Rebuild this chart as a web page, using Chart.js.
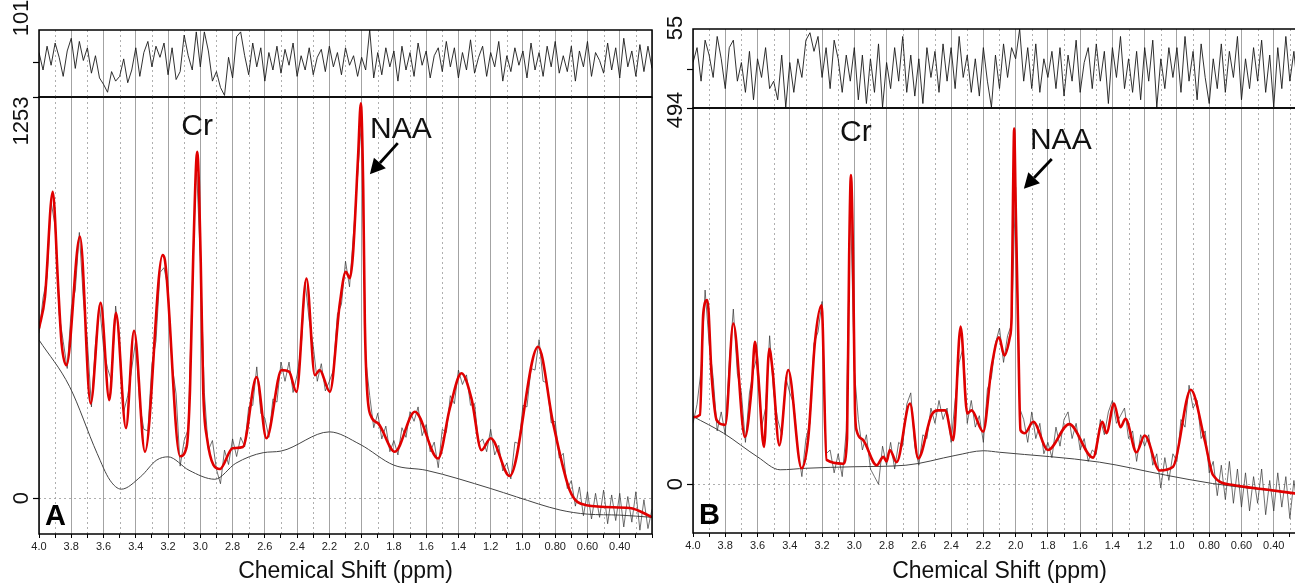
<!DOCTYPE html>
<html>
<head>
<meta charset="utf-8">
<title>MRS spectra A / B</title>
<script src="https://cdn.jsdelivr.net/npm/chart.js@4.4.0/dist/chart.umd.min.js"></script>
<style>
    html, body { margin: 0; padding: 0; background: #fff; overflow: hidden; }
    #stage { position: relative; width: 1295px; height: 583px; overflow: hidden; }
    #stage canvas { position: absolute; }
</style>
</head>
<body>
<div id="stage">
    <canvas id="mainA" width="660" height="583" style="left:0px;top:0px"></canvas>
    <canvas id="resA" width="660" height="100" style="left:0px;top:0px"></canvas>
    <canvas id="mainB" width="680" height="583" style="left:640px;top:0px"></canvas>
    <canvas id="resB" width="680" height="112" style="left:640px;top:0px"></canvas>
</div>
<script>
// sample positions (ppm) of the measured spectrum and residual
const ppmGrid = [
    4, 3.975, 3.95, 3.925, 3.9, 3.875, 3.85, 3.825, 3.8, 3.775,
    3.75, 3.725, 3.7, 3.675, 3.65, 3.625, 3.6, 3.575, 3.55, 3.525,
    3.5, 3.475, 3.45, 3.425, 3.4, 3.375, 3.35, 3.325, 3.3, 3.275,
    3.25, 3.225, 3.2, 3.175, 3.15, 3.125, 3.1, 3.075, 3.05, 3.025,
    3, 2.975, 2.95, 2.925, 2.9, 2.875, 2.85, 2.825, 2.8, 2.775,
    2.75, 2.725, 2.7, 2.675, 2.65, 2.625, 2.6, 2.575, 2.55, 2.525,
    2.5, 2.475, 2.45, 2.425, 2.4, 2.375, 2.35, 2.325, 2.3, 2.275,
    2.25, 2.225, 2.2, 2.175, 2.15, 2.125, 2.1, 2.075, 2.05, 2.025,
    2, 1.975, 1.95, 1.925, 1.9, 1.875, 1.85, 1.825, 1.8, 1.775,
    1.75, 1.725, 1.7, 1.675, 1.65, 1.625, 1.6, 1.575, 1.55, 1.525,
    1.5, 1.475, 1.45, 1.425, 1.4, 1.375, 1.35, 1.325, 1.3, 1.275,
    1.25, 1.225, 1.2, 1.175, 1.15, 1.125, 1.1, 1.075, 1.05, 1.025,
    1, 0.975, 0.95, 0.925, 0.9, 0.875, 0.85, 0.825, 0.8, 0.775,
    0.75, 0.725, 0.7, 0.675, 0.65, 0.625, 0.6, 0.575, 0.55, 0.525,
    0.5, 0.475, 0.45, 0.425, 0.4, 0.375, 0.35, 0.325, 0.3, 0.275,
    0.25, 0.225, 0.2
];

// ---- panel A ----
const dataA = [
    515, 625, 690, 925, 850, 575, 490, 405, 590, 650,
    830, 620, 490, 285, 480, 605, 470, 405, 365, 600,
    480, 270, 320, 405, 495, 290, 215, 210, 420, 490,
    705, 720, 655, 415, 325, 100, 180, 215, 660, 1050,
    750, 330, 150, 180, 90, 45, 150, 105, 185, 130,
    190, 160, 285, 290, 410, 265, 250, 190, 310, 300,
    425, 365, 425, 330, 385, 470, 675, 555, 475, 365,
    420, 335, 365, 400, 575, 605, 740, 660, 830, 1005,
    1185, 435, 320, 220, 265, 185, 225, 145, 180, 135,
    220, 190, 270, 240, 285, 195, 230, 145, 175, 95,
    215, 205, 320, 295, 400, 355, 385, 290, 295, 170,
    185, 145, 215, 135, 165, 85, 110, 60, 175, 170,
    290, 285, 405, 400, 495, 365, 360, 235, 240, 125,
    140, 30, 55, -25, 35, -55, 20, -65, 15, -60,
    25, -80, 10, -70, 15, -90, 5, -75, 20, -100,
    -5, -95, -35
];

const residualA = [
    30, -25, 50, -10, 60, 15, -45, 35, 75, -20,
    65, 5, 45, -35, 20, -50, -70, -95, -30, -60,
    -45, 10, -65, -25, 45, -45, 30, 65, -15, 50,
    15, 60, -40, 45, -55, -30, 85, 20, -25, 95,
    -15, 95, 35, -60, -30, -80, -105, 15, -50, 80,
    95, 20, -40, 60, -15, 45, -60, 30, -25, 50,
    -35, 40, -10, 60, -45, 20, -25, 45, -40, 15,
    40, -30, 50, -15, 30, -40, 45, -10, 20, -45,
    15, -25, 101, -50, 30, -40, 45, -15, 35, -60,
    50, -25, 30, -45, 60, -10, 35, -50, 20, 45,
    -30, 65, -15, 45, -50, 30, -25, 70, -35, 15,
    50, -45, 30, -15, 65, -60, 20, -30, 45, -10,
    35, -50, 60, -25, 30, -45, 50, -15, 65, -35,
    20, -30, 50, -60, 35, -15, 65, -45, 30, 5,
    -35, 60, -25, 45, -50, 75, -15, 35, -45, 55,
    -30, 50, -20
];

// fitted model, [ppm, signal]
const fitA = [
    [4.0, 530], [3.963, 629], [3.915, 957], [3.88, 650], [3.86, 484], [3.83, 415],
    [3.746, 817], [3.68, 296], [3.618, 610], [3.564, 306], [3.523, 579], [3.461, 219],
    [3.411, 523], [3.343, 145], [3.234, 759], [3.22, 745], [3.126, 131], [3.085, 160],
    [3.064, 337], [3.044, 754], [3.019, 1082], [2.998, 754], [2.982, 337], [2.96, 192],
    [2.878, 91], [2.80, 156], [2.736, 160], [2.651, 378], [2.59, 187], [2.496, 400],
    [2.45, 395], [2.404, 332], [2.342, 686], [2.29, 384], [2.26, 400], [2.197, 332],
    [2.135, 609], [2.098, 707], [2.073, 687], [2.054, 759], [2.022, 1067], [2.005, 1233],
    [1.99, 962], [1.98, 546], [1.966, 337], [1.94, 254], [1.898, 234], [1.794, 145],
    [1.67, 270], [1.526, 124], [1.453, 281], [1.381, 390], [1.319, 311], [1.257, 150],
    [1.2, 187], [1.082, 69], [0.906, 473], [0.813, 234], [0.71, 25], [0.607, -22],
    [0.338, -31], [0.2, -59]
];

const baselineA = [
    [4.0, 494], [3.81, 348], [3.64, 140], [3.56, 56], [3.49, 28], [3.37, 67],
    [3.27, 119], [3.2, 129], [3.07, 87], [2.91, 59], [2.78, 109], [2.61, 142],
    [2.5, 147], [2.2, 207], [2.01, 168], [1.8, 103], [1.6, 87], [1.2, 30],
    [1.04, 4], [0.77, -37], [0.6, -50], [0.4, -53], [0.2, -60]
];

// ---- panel B ----
const dataB = [
    80, 105, 150, 255, 185, 140, 70, 95, 65, 160,
    230, 145, 120, 55, 120, 150, 170, 75, 100, 195,
    120, 85, 65, 140, 120, 105, 45, 10, 60, 80,
    185, 200, 240, 40, 45, 15, 40, 10, 70, 380,
    150, 85, 45, 65, 20, 10, 0, 50, 25, 55,
    20, 55, 50, 105, 120, 50, 25, 65, 60, 100,
    80, 110, 85, 100, 55, 110, 160, 180, 80, 110,
    75, 90, 55, 125, 140, 185, 205, 160, 195, 210,
    390, 100, 85, 55, 95, 60, 80, 40, 55, 35,
    75, 50, 85, 95, 60, 80, 45, 60, 30, 45,
    40, 85, 65, 95, 110, 80, 90, 100, 60, 70,
    30, 65, 50, 65, 25, 40, -5, 35, 5, 40,
    30, 85, 75, 130, 100, 110, 60, 70, 15, 30,
    -15, 25, -20, 30, -25, 20, -30, 15, -35, 10,
    -25, 20, -40, 5, -35, 15, -30, 10, -45, 5,
    -35, 0, -30
];

const residualB = [
    10, 30, -15, 40, 20, -10, 45, 15, -25, 30,
    40, -15, 10, -30, 25, -40, 15, -10, 30, -25,
    -15, -40, 20, -50, 10, -30, 15, -10, 40, 50,
    25, 45, -10, 30, -25, 40, 15, -30, 20, -15,
    30, -40, 20, -45, 15, -30, 35, -50, 10, -25,
    30, -15, 45, -30, 20, -35, 15, -45, 30, -10,
    25, -30, 35, -15, 30, -25, 45, -10, 20, -30,
    15, -35, 30, -15, -50, 20, -25, 35, -10, 30,
    15, 55, -15, 30, -25, 35, -30, 15, -10, 25,
    -25, 30, -35, 20, -15, 40, -30, 10, 30, -25,
    35, -15, 25, -45, 30, -10, 45, -25, 15, -30,
    25, -40, 30, -15, 40, -50, 15, -25, 30, -10,
    30, -30, 45, -15, 25, -40, 35, -10, -45, 15,
    -25, 35, -30, 25, -10, 45, -40, 15, -25, 30,
    -15, 40, -30, 20, -50, 30, -25, 45, -15, 25,
    -30, 15, -10
];

const fitB = [
    [4.0, 88], [3.957, 91], [3.936, 225], [3.911, 242], [3.884, 141], [3.853, 84],
    [3.80, 78], [3.75, 211], [3.678, 62], [3.636, 128], [3.616, 187], [3.595, 141],
    [3.56, 49], [3.527, 178], [3.506, 148], [3.465, 51], [3.41, 150], [3.327, 21],
    [3.285, 62], [3.244, 187], [3.203, 235], [3.172, 32], [3.069, 27], [3.045, 60],
    [3.032, 300], [3.021, 406], [3.008, 300], [2.996, 100], [2.985, 70], [2.945, 58],
    [2.862, 25], [2.82, 36], [2.80, 30], [2.78, 45], [2.738, 29], [2.655, 106],
    [2.604, 34], [2.521, 91], [2.48, 97], [2.437, 97], [2.387, 58], [2.341, 207],
    [2.30, 93], [2.273, 97], [2.201, 69], [2.149, 154], [2.103, 193], [2.07, 169],
    [2.036, 193], [2.025, 220], [2.016, 380], [2.009, 467], [2.0, 370], [1.984, 198],
    [1.97, 71], [1.943, 67], [1.891, 82], [1.80, 45], [1.668, 79], [1.52, 35],
    [1.462, 82], [1.437, 67], [1.39, 106], [1.35, 75], [1.319, 86], [1.251, 42],
    [1.20, 64], [1.107, 18], [1.024, 23], [0.914, 124], [0.828, 58], [0.776, 12],
    [0.652, -1], [0.446, -7], [0.27, -12], [0.2, -14]
];

const baselineB = [
    [4.0, 89], [3.81, 67], [3.6, 36], [3.46, 19], [3.3, 21], [3.0, 23],
    [2.68, 25], [2.37, 38], [2.2, 44], [2.1, 42], [1.48, 29], [1.07, 12],
    [0.78, 1], [0.27, -12], [0.2, -14]
];

const FONT = '"Liberation Sans", Arial, Helvetica, sans-serif';
const RED = 'rgb(224,0,0)';
const X_MIN = 0.2;
const X_MAX = 4.0;

function gridPoints(values) {
    return ppmGrid.map((x, i) => ({ x, y: values[i] }));
}

function pairPoints(pairs) {
    return pairs.map(([x, y]) => ({ x, y }));
}

function isMajor(v) {
    return Math.round(v * 10) % 2 === 0;
}

function ppmLabel(v) {
    const r = Math.round(v * 10) / 10;
    if (!isMajor(r) || r < 0.3) return '';
    return r >= 1 ? r.toFixed(1) : r.toFixed(2);
}

/**
 * Frame, dotted minor grid, rotated axis numbers and the peak notes
 */
function makeDecor(cfg) {
    return {
        id: 'spectrumDecor',
        beforeDatasetsDraw(chart) {
            const { ctx, chartArea: a, scales: { x, y } } = chart;
            ctx.save();
            ctx.beginPath();
            ctx.rect(a.left, a.top, a.right - a.left, a.bottom - a.top);
            ctx.clip();
            ctx.strokeStyle = '#9a9a9a';
            ctx.lineWidth = 0.8;
            ctx.setLineDash([2, 3]);
            x.ticks.forEach(t => {
                if (isMajor(t.value)) return;
                const px = Math.round(x.getPixelForValue(t.value)) + 0.5;
                ctx.beginPath();
                ctx.moveTo(px, a.top);
                ctx.lineTo(px, a.bottom);
                ctx.stroke();
            });
            if (cfg.zeroLine) {
                const py = Math.round(y.getPixelForValue(0)) + 0.5;
                ctx.beginPath();
                ctx.moveTo(a.left, py);
                ctx.lineTo(a.right, py);
                ctx.stroke();
            }
            ctx.restore();
        },
        afterDraw(chart) {
            const { ctx, chartArea: a, scales: { x, y } } = chart;
            ctx.save();
            ctx.strokeStyle = '#000';
            ctx.lineWidth = 1.5;
            ctx.strokeRect(a.left, a.top, a.right - a.left, a.bottom - a.top);

            ctx.fillStyle = '#111';
            ctx.font = `22px ${FONT}`;
            ctx.textAlign = 'center';
            ctx.textBaseline = 'middle';
            (cfg.yLabels || []).forEach(l => {
                ctx.save();
                ctx.translate(a.left - 17, y.getPixelForValue(l.value) + l.shift);
                ctx.rotate(-Math.PI / 2);
                ctx.fillText(l.text, 0, 0);
                ctx.restore();
            });

            ctx.font = `30px ${FONT}`;
            (cfg.notes || []).forEach(n => {
                ctx.fillText(n.text, x.getPixelForValue(n.x), y.getPixelForValue(n.y));
            });

            (cfg.arrows || []).forEach(ar => {
                const x0 = x.getPixelForValue(ar.from[0]);
                const y0 = y.getPixelForValue(ar.from[1]);
                const x1 = x.getPixelForValue(ar.to[0]);
                const y1 = y.getPixelForValue(ar.to[1]);
                const ang = Math.atan2(y1 - y0, x1 - x0);
                const head = 15;
                const bx = x1 - head * Math.cos(ang);
                const by = y1 - head * Math.sin(ang);
                ctx.strokeStyle = '#000';
                ctx.lineWidth = 2.8;
                ctx.beginPath();
                ctx.moveTo(x0, y0);
                ctx.lineTo(bx, by);
                ctx.stroke();
                ctx.fillStyle = '#000';
                ctx.beginPath();
                ctx.moveTo(x1, y1);
                ctx.lineTo(bx + 8 * Math.sin(ang), by - 8 * Math.cos(ang));
                ctx.lineTo(bx - 8 * Math.sin(ang), by + 8 * Math.cos(ang));
                ctx.closePath();
                ctx.fill();
            });

            if (cfg.letter) {
                ctx.fillStyle = '#000';
                ctx.font = `bold 29px ${FONT}`;
                ctx.textAlign = 'left';
                ctx.textBaseline = 'alphabetic';
                ctx.fillText(cfg.letter, a.left + 6, a.bottom - 9);
            }

            if (cfg.title) {
                ctx.fillStyle = '#111';
                ctx.font = `23px ${FONT}`;
                ctx.textAlign = 'center';
                ctx.textBaseline = 'alphabetic';
                ctx.fillText(cfg.title, (a.left + a.right) / 2, 578);
            }
            ctx.restore();
        }
    };
}

function xScale(height, showLabels) {
    return {
        type: 'linear',
        reverse: true,
        min: X_MIN,
        max: X_MAX,
        afterFit: s => { s.height = height; },
        ticks: {
            display: showLabels,
            stepSize: 0.1,
            autoSkip: false,
            minRotation: 0,
            maxRotation: 0,
            padding: 2,
            color: '#222',
            font: { family: FONT, size: 11 },
            callback: v => ppmLabel(v)
        },
        grid: {
            color: c => (c.tick && isMajor(c.tick.value)) ? '#8c8c8c' : 'rgba(0,0,0,0)',
            lineWidth: 0.8,
            drawTicks: showLabels,
            tickLength: 4,
            tickColor: '#000',
            tickWidth: 1
        },
        border: { display: false }
    };
}

function yScale(min, max, width, tickValues) {
    return {
        type: 'linear',
        min,
        max,
        afterFit: s => { s.width = width; },
        afterBuildTicks: s => { s.ticks = tickValues.map(value => ({ value })); },
        ticks: { display: false },
        grid: {
            drawOnChartArea: false,
            drawTicks: true,
            tickLength: 6,
            tickColor: '#000',
            tickWidth: 1.2
        },
        border: { display: false }
    };
}

function baseOptions(padding, scales) {
    return {
        responsive: false,
        animation: false,
        devicePixelRatio: 1,
        events: [],
        layout: { padding },
        elements: { point: { radius: 0 }, line: { fill: false, tension: 0 } },
        plugins: { legend: { display: false }, tooltip: { enabled: false } },
        scales
    };
}

function createMain(id, o) {
    return new Chart(document.getElementById(id), {
        type: 'line',
        data: {
            datasets: [
                { label: 'Fit', data: pairPoints(o.fit), borderColor: RED, borderWidth: 2.6,
                  cubicInterpolationMode: 'monotone', order: 0 },
                { label: 'Data', data: gridPoints(o.data), borderColor: 'rgba(45,45,45,0.85)',
                  borderWidth: 0.8, order: 1 },
                { label: 'Baseline', data: pairPoints(o.baseline), borderColor: '#444',
                  borderWidth: 1, cubicInterpolationMode: 'monotone', order: 2 }
            ]
        },
        options: baseOptions(o.padding, {
            x: xScale(o.xHeight, true),
            y: yScale(o.min, o.max, o.yWidth, [0, o.max])
        }),
        plugins: [makeDecor(o.decor)]
    });
}

function createResidual(id, o) {
    return new Chart(document.getElementById(id), {
        type: 'line',
        data: {
            datasets: [
                { label: 'Residual', data: gridPoints(o.data), borderColor: '#1a1a1a', borderWidth: 0.9 }
            ]
        },
        options: baseOptions(o.padding, {
            x: xScale(0, false),
            y: yScale(o.min, o.max, o.yWidth, [0])
        }),
        plugins: [makeDecor(o.decor)]
    });
}

createMain('mainA', {
    fit: fitA, data: dataA, baseline: baselineA,
    min: -112, max: 1253, yWidth: 39, xHeight: 49,
    padding: { top: 97, right: 8, bottom: 0, left: 0 },
    decor: {
        zeroLine: true,
        yLabels: [{ text: '1253', value: 1253, shift: 24 }, { text: '0', value: 0, shift: 0 }],
        notes: [{ text: 'Cr', x: 3.02, y: 1159 }, { text: 'NAA', x: 1.757, y: 1150 }],
        arrows: [{ from: [1.776, 1109], to: [1.949, 1012] }],
        letter: 'A',
        title: 'Chemical Shift (ppm)'
    }
});

createResidual('resA', {
    data: residualA, min: -110, max: 101, yWidth: 39,
    padding: { top: 30, right: 8, bottom: 3, left: 0 },
    decor: { yLabels: [{ text: '101', value: 101, shift: -12 }] }
});

createMain('mainB', {
    fit: fitB, data: dataB, baseline: baselineB,
    min: -64, max: 494, yWidth: 53, xHeight: 50,
    padding: { top: 108, right: 14, bottom: 0, left: 0 },
    decor: {
        zeroLine: true,
        yLabels: [{ text: '494', value: 494, shift: 2 }, { text: '0', value: 0, shift: 0 }],
        notes: [{ text: 'Cr', x: 2.99, y: 462 }, { text: 'NAA', x: 1.72, y: 451 }],
        arrows: [{ from: [1.776, 427], to: [1.949, 388] }],
        letter: 'B',
        title: 'Chemical Shift (ppm)'
    }
});

createResidual('resB', {
    data: residualB, min: -51, max: 55, yWidth: 53,
    padding: { top: 29, right: 14, bottom: 4, left: 0 },
    decor: { yLabels: [{ text: '55', value: 55, shift: -1 }] }
});
</script>
</body>
</html>
